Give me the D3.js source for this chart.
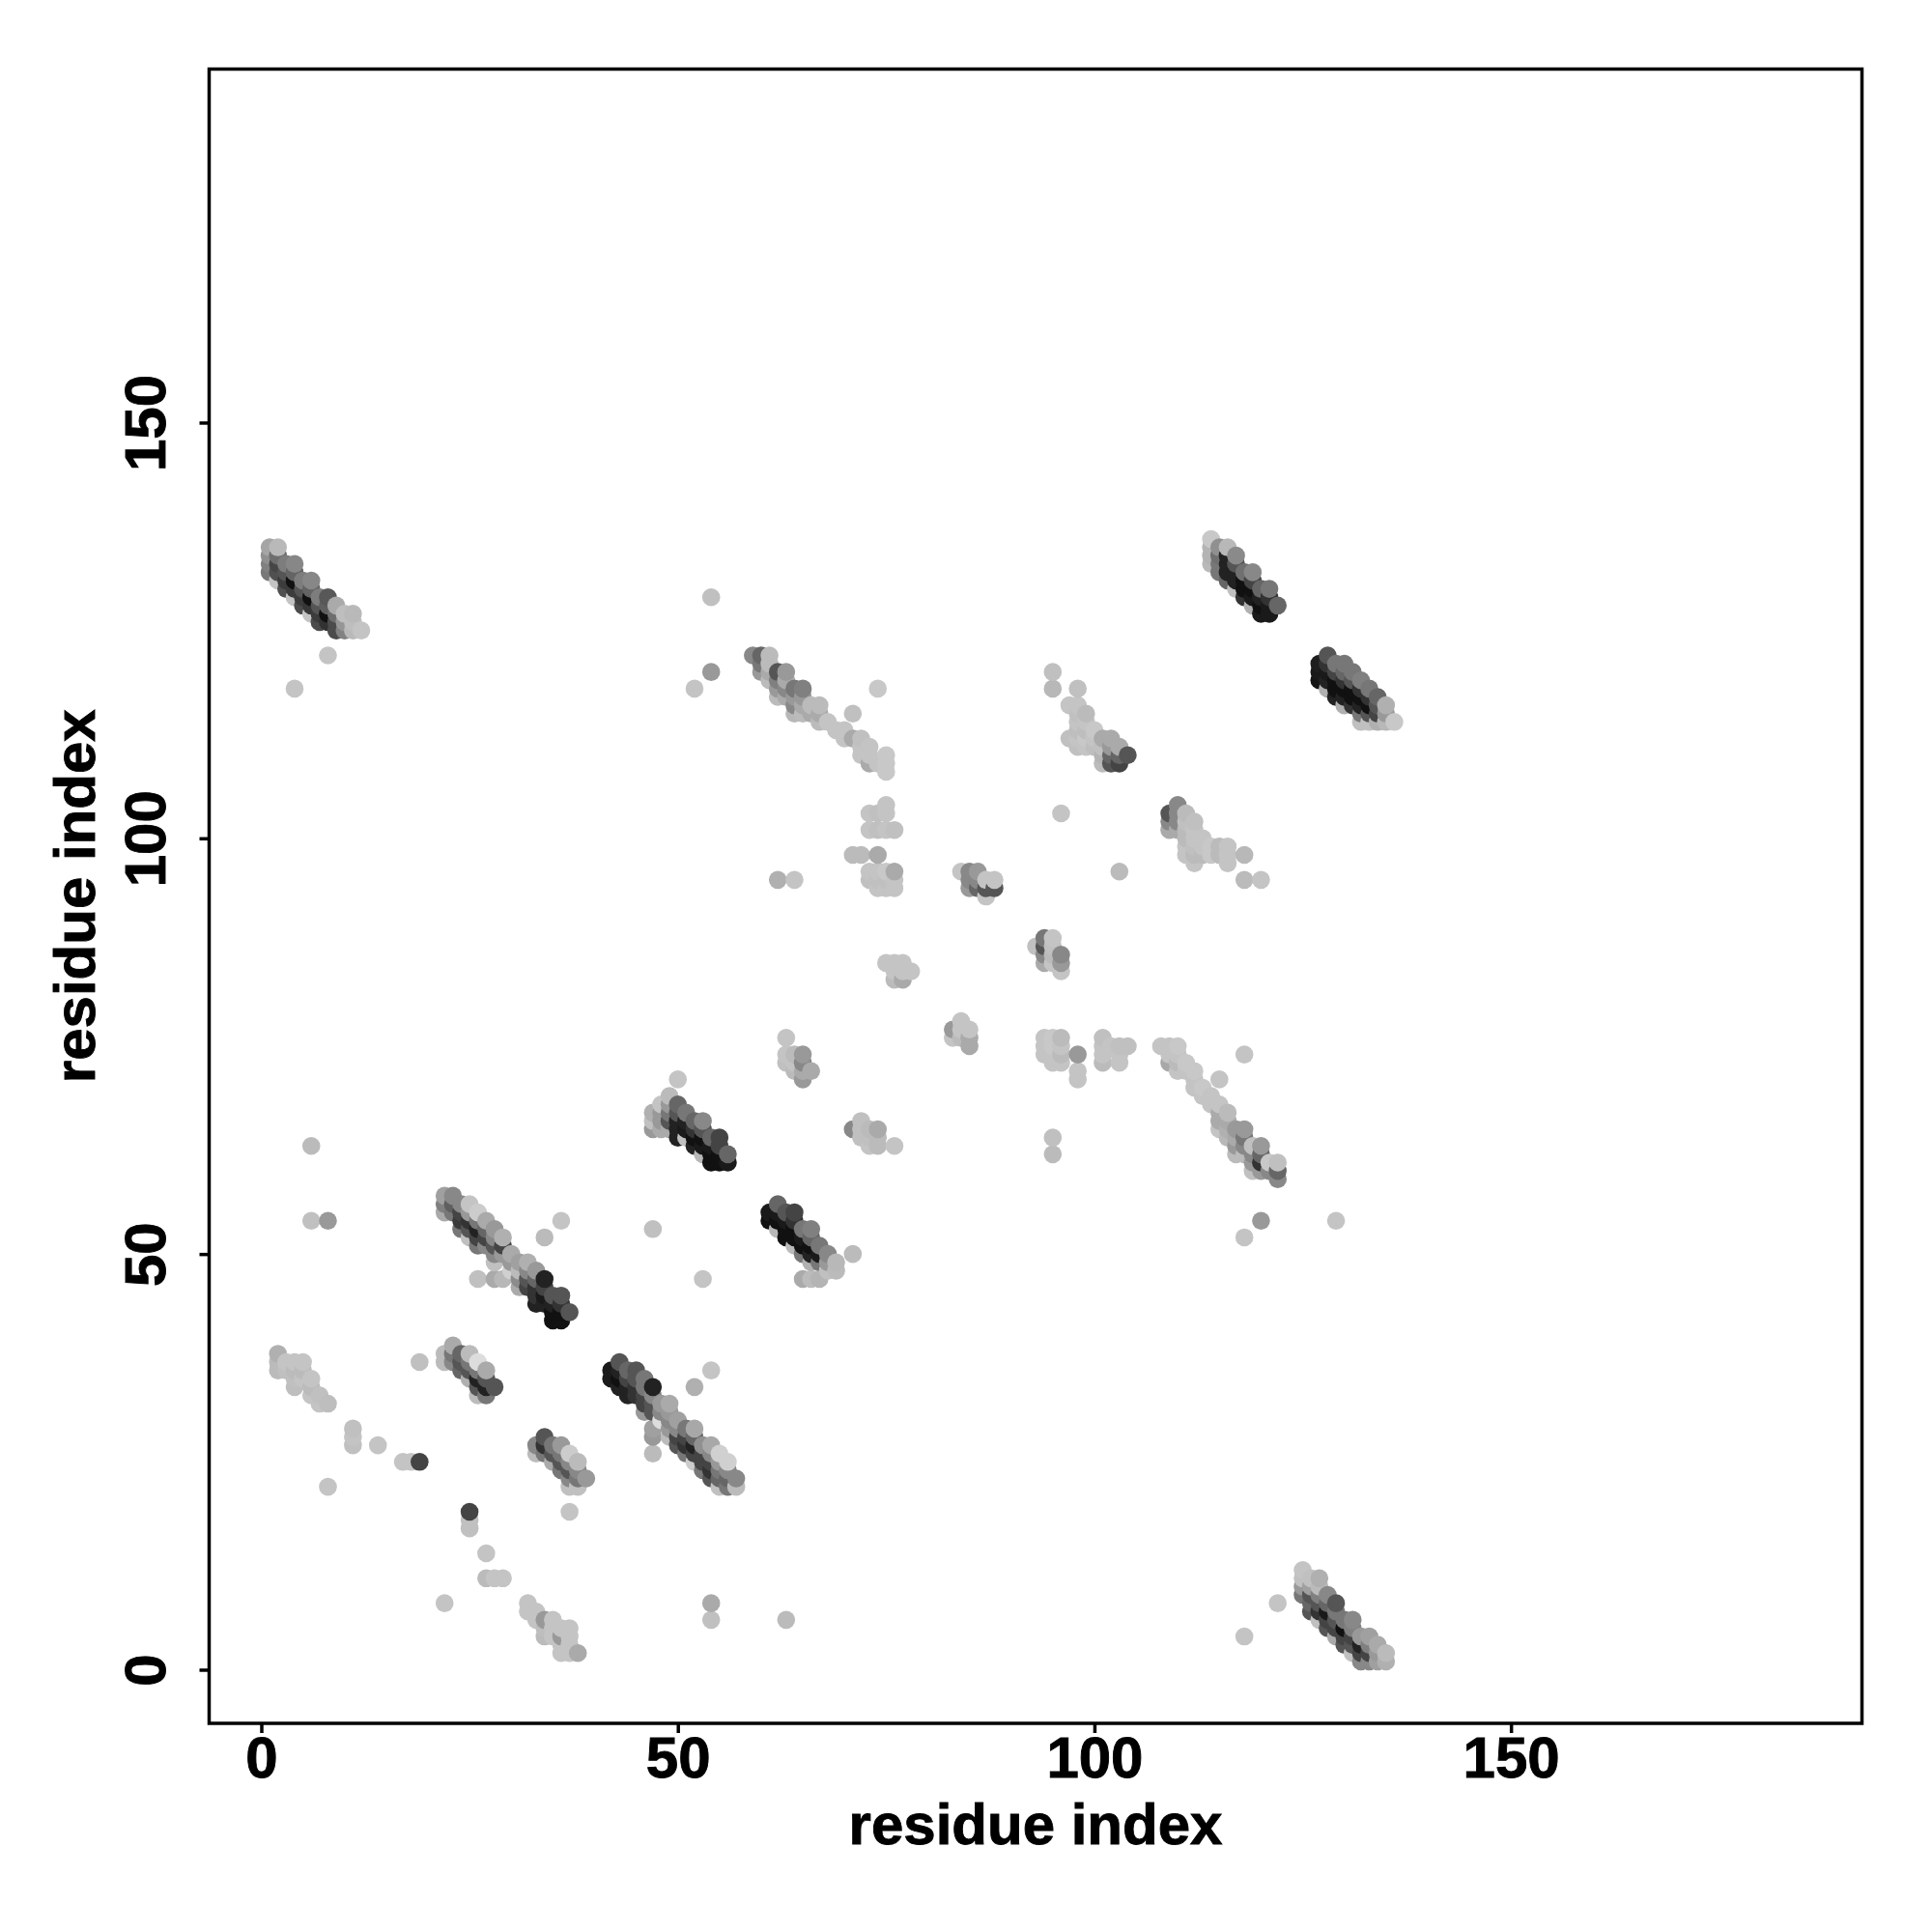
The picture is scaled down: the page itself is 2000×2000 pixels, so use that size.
<!DOCTYPE html>
<html><head><meta charset="utf-8">
<script src="https://cdn.jsdelivr.net/npm/d3@7/dist/d3.min.js"></script>
<style>html,body{margin:0;padding:0;background:#fff}svg{display:block}</style></head>
<body><div id="chart"></div>
<script>
// Each row: [residue x, first residue y, grey levels for consecutive y]
const xTicks=[0,50,100,150], yTicks=[0,50,100,150];
const axisTitle="residue index";
const helixTopLeft=[
[1,132,[120,128,144,165]],[2,131,[196,80,70,110,185]],[3,130,[80,60,85,125]],[4,129,[196,60,17,100,135]],
[5,128,[75,60,85,125]],[6,127,[196,55,17,100,135]],[7,126,[75,60,85,125]],[8,126,[50,17,95,88]],
[9,125,[75,75,110,170]],[10,125,[130,150,190]],[11,125,[185,190,185]],[12,125,[196]],[8,122,[196]],[4,118,[196]]];
const helixTopRight=[
[114,133,[185,180,180,200]],[115,132,[119,119,112,144]],[116,131,[102,34,34,34,184]],[117,130,[192,34,34,85,138]],
[118,129,[51,17,17,112]],[119,128,[176,26,17,68,136]],[120,127,[26,17,34,102]],[121,127,[26,26,51,119]],[122,128,[102]]];
const helixRight=[
[127,119,[20,25,30]],[128,118,[176,34,26,51,85]],[129,117,[34,17,17,68,119]],[130,116,[176,34,17,51,102,119]],
[131,116,[51,17,17,85,119]],[132,114,[192,119,34,17,51,128]],[133,114,[192,85,17,51,119]],[134,114,[176,68,85,102]],
[135,114,[184,153,176]],[136,114,[200]]];
const sheetA=[
[22,55,[170,128,160]],[23,55,[119,95,136]],[24,53,[119,58,68,136]],[25,52,[192,85,51,153,196]],[26,51,[119,68,34,119,204]],
[27,51,[136,68,102,170]],[28,49,[192,136,85,136,153]],[29,50,[153,68,176]],[30,48,[208,153,170]],[31,46,[170,140,187,160]],
[32,46,[68,85,136,176]],[33,44,[34,51,51,102,153]],[34,44,[34,26,68,34]],[35,42,[17,17,34,85]],[36,42,[17,17,51,85]],[37,43,[85]],
[26,47,[192]],[28,47,[170]],[29,47,[184]],[34,52,[187]],[36,54,[196]]];
const sheetB=[
[42,35,[26,26]],[43,34,[34,17,34,85]],[44,33,[34,34,68,102]],[45,33,[51,51,85,85]],[46,31,[153,68,68,119,119]],
[47,31,[85,85,136,34]],[47,26,[187]],[47,28,[153,160]],[48,30,[221,136,153]],[49,28,[187,153,136,153,170]],
[50,27,[85,68,136,160]],[51,26,[119,51,68,119]],[52,25,[204,68,34,102,168]],[53,24,[119,68,68,144]],[54,23,[85,51,68,136,168]],
[55,22,[192,102,119,153,208]],[56,22,[119,102,136,208]],[57,22,[187,136]],[52,34,[176]],[54,36,[196]]];
const sheetC=[
[22,37,[187,187]],[23,37,[136,119,170]],[24,36,[102,85,102]],[25,35,[176,85,119,187]],[26,33,[187,85,34,119,221]],
[27,33,[119,34,85,170]],[28,34,[85]],[19,37,[192]]];
const sheetD=[
[33,26,[187,136]],[34,26,[119,51,85]],[35,25,[170,85,119]],[36,24,[119,85,119,153]],[37,22,[192,136,85,136,204]],
[38,22,[192,119,136,187]],[39,23,[153]],[37,19,[196]]];
const sheetE=[
[47,65,[153,192,176]],[48,65,[170,153,153,196]],[49,65,[170,85,119,153,187]],[50,64,[34,34,34,85,102]],[50,71,[196]],
[51,64,[192,26,34,119]],[52,63,[34,17,51,102]],[53,62,[184,26,17,85,136]],[54,61,[17,17,26,102]],[55,61,[17,17,68,68]],[56,61,[26,102]]];
const sheetF=[
[61,54,[17,26]],[62,53,[184,17,26,102]],[63,52,[17,17,26,85]],[64,51,[187,17,17,51,68]],[65,50,[119,17,26,119]],[65,47,[170]],
[66,49,[176,34,17,102,128]],[66,47,[187]],[67,49,[119,26,119]],[67,47,[180]],[68,48,[192,153,136]],[69,48,[187,184]],[71,50,[187]]];
const helixBottom=[
[125,9,[119,153,192,196]],[126,7,[85,102,85,160,192]],[127,6,[192,51,85,128,187,176]],[128,5,[85,68,26,102,136]],
[129,4,[170,68,85,119,85]],[130,3,[85,68,17,119]],[131,2,[192,85,68,128,136]],[132,1,[136,68,34,153]],[133,1,[136,68,128,160]],
[134,1,[160,153,170]],[135,1,[176,187]],[118,4,[196]],[122,8,[196]]];
const ridgeRight=[
[108,75,[196]],[109,73,[168,196,196]],[110,72,[196,187,196,200]],[111,72,[196,200]],[112,70,[196,196,200]],[113,69,[196,200]],
[114,68,[196,196]],[115,65,[196,170,170,196]],[115,71,[196]],[116,64,[184,176,170,187]],[117,62,[187,153,170,153]],
[118,62,[187,136,119,153]],[118,74,[196]],[119,60,[192,153,136,192]],[120,60,[153,51,102,153]],[121,60,[136,200]],
[122,59,[136,102,192]],[118,52,[196]],[120,54,[153]],[129,54,[196]]];
const ridgeTop=[
[59,122,[136]],[60,120,[153,119,102]],[61,119,[187,170,187,187]],[62,117,[187,153,128,85]],[63,117,[170,136,170,153]],
[64,115,[184,136,153,119]],[65,115,[187,170,153,128]],[66,115,[170,187]],[67,114,[187,170,187]],[68,114,[196]],[69,113,[196]],
[70,112,[196,196]],[71,112,[170]],[71,115,[192]],[72,110,[196,196,192]],[73,109,[170,196,196]],[74,109,[196]],[75,108,[200,200,200]],
[74,118,[200]],[52,118,[196]],[54,120,[153]],[54,129,[192]]];
const patchA=[
[95,118,[184]],[95,120,[192]],[97,112,[192]],[97,116,[196]],[98,111,[192,196,190,196,192,196]],[98,118,[192]],
[99,111,[196,200,190,196,187]],[100,111,[190,196,200]],[101,109,[187,180,192,170]],[102,109,[85,102,153,170]],
[103,109,[68,102,170]],[104,110,[85]]];
const patchB=[
[109,101,[170,136,85]],[110,101,[170,136,136,136]],[111,98,[196,196,187,187,192,187]],[112,97,[196,187,192,196,196,192]],
[113,98,[187,196,196]],[114,98,[200,200]],[115,98,[187,187]],[116,97,[196,196,196]],[118,95,[187]],[118,98,[184]],[120,95,[196]],
[96,103,[196]],[103,96,[187]]];
const patchC=[
[71,98,[187]],[72,98,[187]],[73,95,[192,196]],[73,101,[196]],[73,103,[196]],[74,94,[196,192,196]],[74,98,[170]],[74,101,[192]],[74,103,[192]],
[75,94,[196,192,200]],[75,101,[196]],[75,103,[196,196]],[76,94,[196,196,170]],[76,101,[192]],[62,95,[176]],[64,95,[196]]];
const patchD=[
[84,96,[196]],[85,94,[153,136,136]],[86,94,[102,136,153]],[87,93,[196,85,196]],[88,94,[85,196]],
[93,87,[192]],[94,85,[170,136,85,119]],[95,85,[196,187,192,196]],[96,84,[196,153,136]],
[75,85,[196]],[76,83,[187,196,196]],[77,83,[170,196,196]],[78,84,[196]],
[83,76,[196,153]],[84,76,[187,196,196]],[85,75,[170,170,196]]];
const patchE=[
[94,74,[196,196,196]],[95,73,[196,196,200,200]],[96,73,[196,187,196,187]],[98,71,[196,196]],[98,74,[153]],
[101,73,[187,196,196,192]],[102,75,[196]],[103,73,[196,196,192]],[104,75,[192]],[95,62,[187]],[95,64,[192]],
[63,73,[192,196]],[63,76,[196]],[64,72,[187,196,187]],[65,71,[153,170,136,153]],[66,72,[170]],
[71,65,[136]],[72,64,[192,192,192]],[73,63,[196,192,187]],[74,63,[187,187,170]],[76,63,[196]]];
const scatterLeft=[
[6,63,[187]],[6,54,[192]],[8,54,[153]],[47,53,[192]],[53,47,[196]],[54,6,[192]],[54,8,[170]],[22,8,[196]],[63,6,[187]],
[2,36,[187,187,176]],[3,36,[192,196]],[4,34,[190,192,187,196]],[5,35,[196,187,196]],[6,33,[196,187,196]],[7,32,[196,192]],[8,32,[190]],
[11,27,[192]],[11,28,[196,192]],[14,27,[196]],[17,25,[196]],[18,25,[196]],[19,25,[68]],[8,22,[196]],
[25,17,[192,192,68]],[27,14,[196]],[27,11,[187]],[28,11,[196]],[29,11,[196]],
[32,7,[196,196]],[33,6,[196,196]],[34,4,[187,190,153]],[35,4,[196,196,196]],[36,2,[196,196,153,196]],[37,2,[196,196,196,196]],[38,2,[170]]];

const rows=[...helixTopLeft,...helixTopRight,...helixRight,...sheetA,...sheetB,...sheetC,...sheetD,...sheetE,...sheetF,
  ...helixBottom,...ridgeRight,...ridgeTop,...patchA,...patchB,...patchC,...patchD,...patchE,...scatterLeft];
const points=rows.flatMap(([x,y0,gs])=>gs.map((g,i)=>({x,y:y0+i,g})))
  .sort((a,b)=>d3.ascending(a.x,b.x)||d3.ascending(a.y,b.y));

const L=216.5,R=1927.5,T=71.5,B=1784;
const xScale=d3.scaleLinear().domain([-6.26,192.13]).range([L,R]);
const yScale=d3.scaleLinear().domain([-6.45,192.52]).range([B,T]);
const grey=d3.scaleLinear().domain([0,255]).range(["#000","#fff"]);

const svg=d3.select("#chart").append("svg").attr("width",2000).attr("height",2000)
  .style("font-family","'Liberation Sans',Arial,sans-serif").style("font-weight","bold");
svg.append("rect").attr("width",2000).attr("height",2000).attr("fill","#fff");
svg.append("g").selectAll("circle").data(points).join("circle")
  .attr("cx",d=>xScale(d.x)).attr("cy",d=>yScale(d.y)).attr("r",9.3).attr("fill",d=>grey(d.g));
svg.append("rect").attr("x",L).attr("y",T).attr("width",R-L).attr("height",B-T)
  .attr("fill","none").attr("stroke","#000").attr("stroke-width",3.5);

const ax=svg.append("g").attr("transform",`translate(0,${B})`)
  .call(d3.axisBottom(xScale).tickValues(xTicks).tickSize(10).tickPadding(0).tickFormat(d3.format("d")));
ax.select(".domain").remove();
ax.selectAll("line").attr("stroke","#000").attr("stroke-width",3.5);
ax.selectAll("text").attr("font-size",60).attr("fill","#000").attr("y",56).attr("dy",0);

const ay=svg.append("g").attr("transform",`translate(${L},0)`)
  .call(d3.axisLeft(yScale).tickValues(yTicks).tickSize(10).tickPadding(0).tickFormat(d3.format("d")));
ay.select(".domain").remove();
ay.selectAll("line").attr("stroke","#000").attr("stroke-width",3.5);
ay.selectAll("text").attr("font-size",60).attr("fill","#000")
  .attr("text-anchor","middle").attr("dy",0).attr("x",0).attr("y",0)
  .attr("transform",d=>`translate(${171-L},0) rotate(-90)`);

svg.append("text").attr("x",(L+R)/2).attr("y",1909).attr("text-anchor","middle").attr("font-size",60).text(axisTitle);
svg.append("text").attr("transform",`translate(98,${(T+B)/2}) rotate(-90)`).attr("text-anchor","middle").attr("font-size",60).text(axisTitle);
svg.selectAll("text").attr("stroke","#000").attr("stroke-width",0.9);
</script></body></html>
